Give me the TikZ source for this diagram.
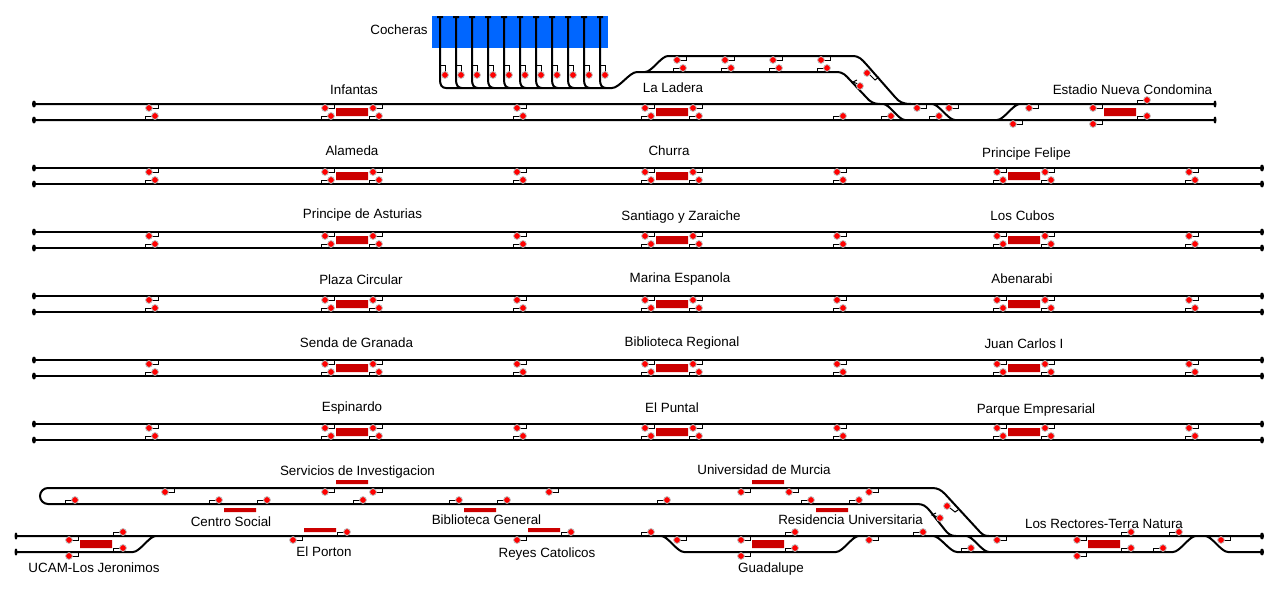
\documentclass[tikz,border=0pt]{standalone}
\usepackage{fontspec}
\setmainfont{Liberation Sans}
\definecolor{garageblue}{HTML}{0066FF}
\definecolor{platred}{HTML}{CC0000}
\tikzset{
	track/.style={line width=2pt,black},
	stemline/.style={line width=1pt,black},
	lamp/.style={fill=red,draw=lightgray,line width=.8pt},
	platform/.style={fill=platred,draw=none},
	trackend/.style={fill=black,draw=none},
	stopname/.style={inner sep=0pt,font=\fontsize{13.4}{15}\selectfont}
}
\newcommand{\sigdn}[2]{
	\draw[stemline] \foreach \x in {#2} {(\x+9,#1) -- (\x+9,#1+4) -- (\x,#1+4)};
	\path[lamp] \foreach \x in {#2} {(\x,#1+4) circle (3.4)};
}
\newcommand{\sigup}[2]{
	\draw[stemline] \foreach \x in {#2} {(\x-10,#1) -- (\x-10,#1-4) -- (\x,#1-4)};
	\path[lamp] \foreach \x in {#2} {(\x,#1-4) circle (3.4)};
}
\newcommand{\scurve}[4]{
	(#1,#2) .. controls ({#1+.3*(#3-#1)},#2) and ({#3-.3*(#3-#1)},#4) .. (#3,#4)
}
\begin{document}
\begin{tikzpicture}[x=1pt,y=-1pt]
\useasboundingbox[fill=white] (0,0) rectangle (1280,592);
\fill[garageblue] (432,16) rectangle (608,48);
\draw[track] \foreach \x in {440,456,...,600} {
	(\x,16) -- (\x,80) .. controls (\x,85) and (\x+2,88) .. (\x+6,88)
	(\x-3,17) -- (\x+3,17)
};
\draw[stemline] \foreach \x in {440,456,...,600} {(\x,65) -- (\x+5,65) -- (\x+5,72)};
\path[lamp] \foreach \x in {445,461,...,605} {(\x,75) circle (3.4)};
\draw[track] (446,88) -- (612,88) \scurve{612}{88}{637}{72}
	(637,72) -- (836,72) .. controls (844,72) and (846,76) .. (850,80) -- (866,97) .. controls (870,102) and (874,104) .. (880,104)
	\scurve{645}{72}{668}{56}
	(668,56) -- (852,56) .. controls (860,56) and (862,60) .. (866,64) -- (895,97) .. controls (899,102) and (903,104) .. (911,104);
\sigdn{56}{677,725,773,821}
\sigup{72}{683,731,779,827}
\draw[stemline] (870,75) -- (875,80) -- (879,77) (857,80) -- (853,82) -- (858,84);
\path[lamp] (867,73) circle (3.4) (860,86) circle (3.4);
\draw[track] (34,104) -- (1215,104) (34,120) -- (1215,120)
	\scurve{883}{104}{905}{120}
	\scurve{932}{104}{955}{120}
	\scurve{997}{120}{1020}{104};
\path[trackend] (34,104) ellipse (2 and 3.5) (34,120) ellipse (2 and 3.5) (1215,104) ellipse (1.5 and 3.5) (1215,120) ellipse (1.5 and 3.5);
\sigdn{104}{149,325,373,517,645,693,917,949,1029,1093}
\sigup{120}{155,331,379,523,651,699,843,891,939,1147}
\sigdn{120}{1013,1093}
\sigup{104}{1147}
\fill[platform] (336,108) rectangle (368,116) (656,108) rectangle (688,116) (1104,108) rectangle (1136,116);
\foreach \y in {168,232,296,360,424} {
	\draw[track] (34,\y) -- (1262,\y) (34,\y+16) -- (1262,\y+16);
	\path[trackend] (34,\y) ellipse (2 and 3.5) (34,\y+16) ellipse (2 and 3.5) (1262,\y) ellipse (2 and 3.5) (1262,\y+16) ellipse (2 and 3.5);
	\sigdn{\y}{149,325,373,517,645,693,837,997,1045,1189}
	\sigup{\y+16}{155,331,379,523,651,699,843,1003,1051,1195}
	\fill[platform] (336,\y+4) rectangle (368,\y+12) (656,\y+4) rectangle (688,\y+12) (1008,\y+4) rectangle (1040,\y+12);
}
\draw[track] (917,504) -- (48,504) arc[start angle=90,end angle=270,radius=8] -- (932,488) .. controls (938,488) and (941,490) .. (945,494) -- (980,532) .. controls (983,535) and (985,536) .. (989,536)
	(917,504) .. controls (923,504) and (926,506) .. (930,511) -- (945,530) .. controls (948,534) and (951,536) .. (956,536);
\sigdn{488}{165,325,373,549,741,789,869}
\sigup{504}{75,219,267,363,459,507,667,811,859}
\draw[stemline] (950,508) -- (955,512) -- (958,510) (936,513) -- (932,515) -- (938,517);
\path[lamp] (947,506) circle (3.4) (940,518) circle (3.4);
\fill[platform] \foreach \x/\y in {336/480,752/480,224/508,464/508,816/508,304/528,528/528} {(\x,\y) rectangle (\x+32,\y+4)};
\fill[platform] \foreach \x in {80,752,1088} {(\x,540) rectangle (\x+32,548)};
\draw[track] (16,536) -- (1262,536) (16,552) -- (133,552)
	\scurve{133}{552}{156}{536}
	\scurve{661}{536}{684}{552}
	(684,552) -- (836,552)
	\scurve{836}{552}{859}{536}
	\scurve{933}{536}{957}{552}
	\scurve{966}{536}{989}{552}
	(957,552) -- (1173,552)
	\scurve{1173}{552}{1196}{536}
	\scurve{1205}{536}{1228}{552}
	(1228,552) -- (1262,552);
\path[trackend] (16,536) ellipse (1.5 and 3.5) (16,552) ellipse (1.5 and 3.5) (1262,536) ellipse (2 and 3.5) (1262,552) ellipse (2 and 3.5);
\sigup{536}{123,347,571,651,795,923,1131,1179}
\sigdn{536}{69,293,517,677,741,869,997,1077,1221}
\sigup{552}{123,795,971,1131,1163}
\sigdn{552}{69,741,1077}
\node[stopname] (cocheras) at (399,30) {Cocheras};
\node[stopname] (infantas) at (354,90) {Infantas};
\node[stopname] (ladera) at (673,88) {La Ladera};
\node[stopname] (estadio) at (1132.5,90) {Estadio Nueva Condomina};
\node[stopname] (alameda) at (352,151) {Alameda};
\node[stopname] (churra) at (669,151) {Churra};
\node[stopname] (felipe) at (1026.5,154) {Principe Felipe};
\node[stopname] (asturias) at (362.5,215) {Principe de Asturias};
\node[stopname] (santiago) at (681,217) {Santiago y Zaraiche};
\node[stopname] (cubos) at (1022.5,216) {Los Cubos};
\node[stopname] (circular) at (361,280) {Plaza Circular};
\node[stopname] (marina) at (680,279) {Marina Espanola};
\node[stopname] (abenarabi) at (1022,279) {Abenarabi};
\node[stopname] (senda) at (356.5,343) {Senda de Granada};
\node[stopname] (regional) at (682,343) {Biblioteca Regional};
\node[stopname] (juan) at (1024,344) {Juan Carlos I};
\node[stopname] (espinardo) at (352,408) {Espinardo};
\node[stopname] (puntal) at (672,408) {El Puntal};
\node[stopname] (parque) at (1036,410) {Parque Empresarial};
\node[stopname] (servicios) at (357.5,472) {Servicios de Investigacion};
\node[stopname] (murcia) at (764,470) {Universidad de Murcia};
\node[stopname] (centro) at (231,522) {Centro Social};
\node[stopname] (general) at (486.5,520) {Biblioteca General};
\node[stopname] (residencia) at (850.5,520) {Residencia Universitaria};
\node[stopname] (rectores) at (1104,524) {Los Rectores-Terra Natura};
\node[stopname] (porton) at (324,552) {El Porton};
\node[stopname] (reyes) at (547,554) {Reyes Catolicos};
\node[stopname] (guadalupe) at (771,569) {Guadalupe};
\node[stopname] (ucam) at (94,568) {UCAM-Los Jeronimos};
\end{tikzpicture}
\end{document}
